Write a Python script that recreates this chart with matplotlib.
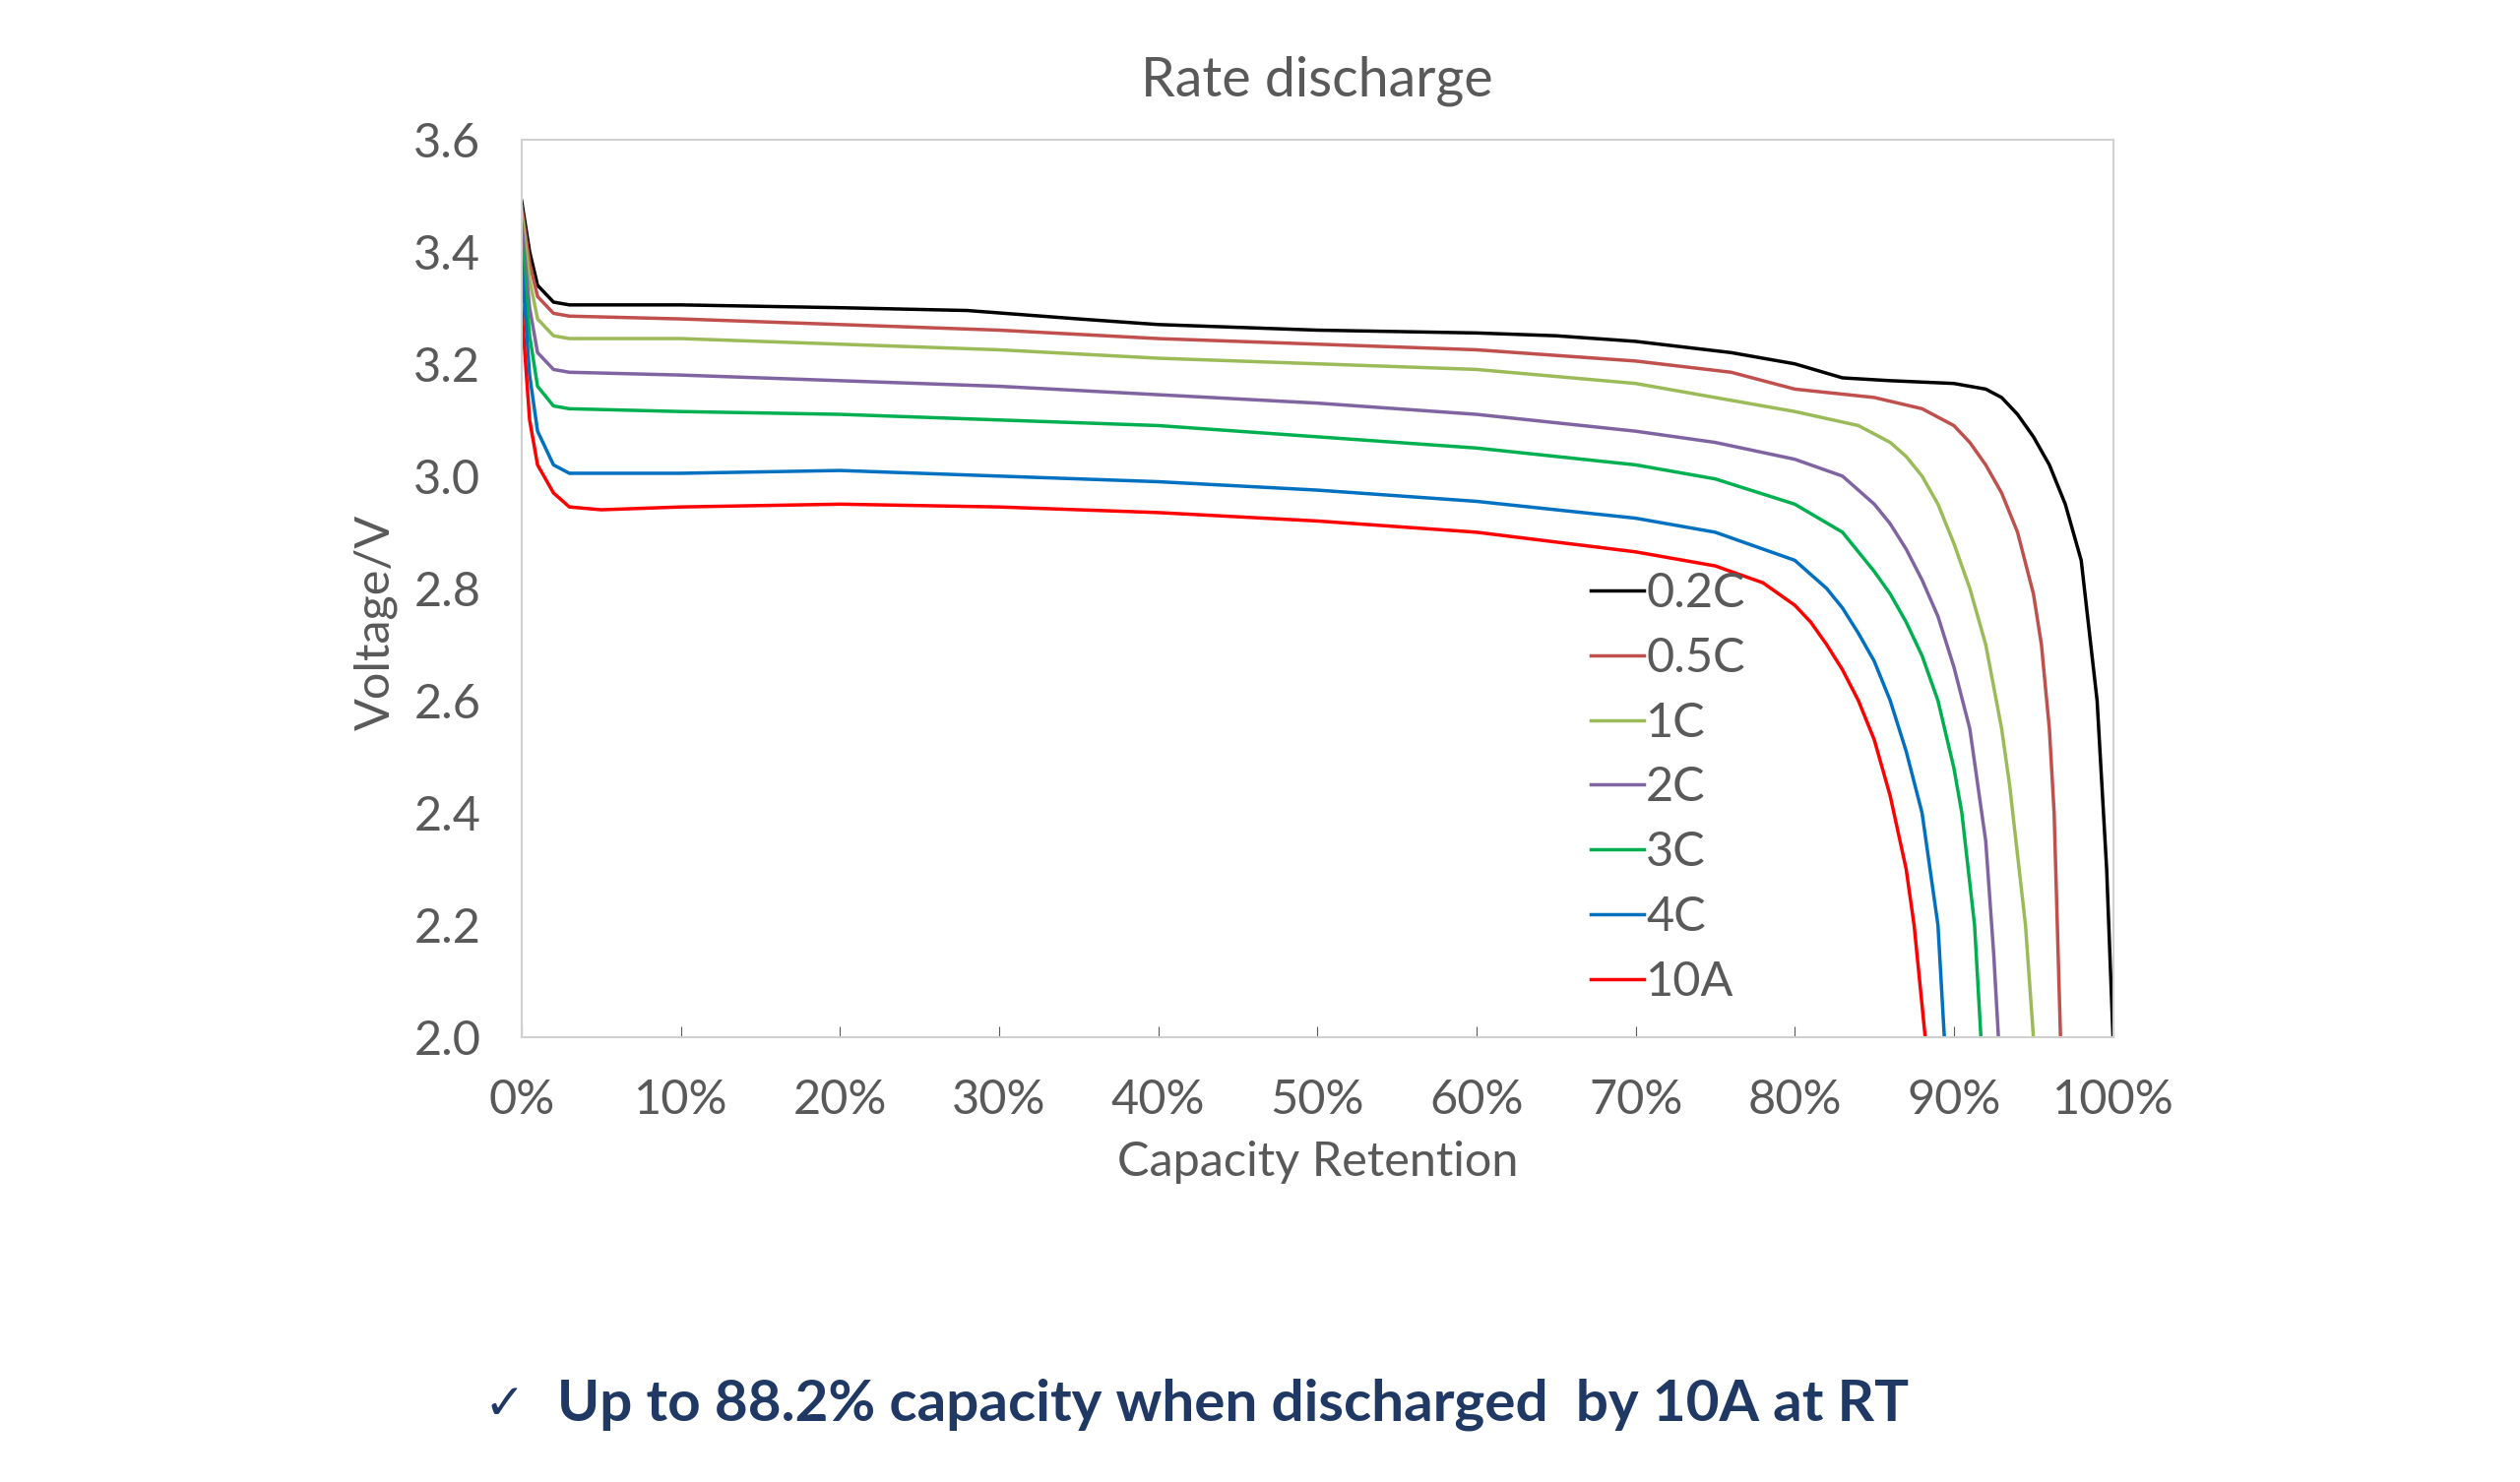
import matplotlib
matplotlib.use("Agg")
import matplotlib.pyplot as plt
from matplotlib.ticker import FuncFormatter

plt.rcParams['font.family'] = ['Lato', 'DejaVu Sans']

labels = ["0.2C", "0.5C", "1C", "2C", "3C", "4C", "10A"]
colors = ["#000000", "#c0504d", "#9bbb59", "#8064a2", "#00b050", "#0070c0", "#ff0000"]

x_02C = [0,0.5,1,2,3,10,20,28,35,40,50,60,65,70,76,80,83,86,90,92,93,94,95,96,97,98,99,99.6,100]
y_02C = [3.49,3.40,3.34,3.31,3.305,3.305,3.30,3.295,3.28,3.27,3.26,3.255,3.25,3.24,3.22,3.20,3.175,3.17,3.165,3.155,3.14,3.11,3.07,3.02,2.95,2.85,2.6,2.3,2.0]
x_05C = [0,0.5,1,2,3,10,20,30,40,50,60,70,76,80,85,88,90,91,92,93,94,95,95.5,96,96.3,96.7]
y_05C = [3.48,3.38,3.32,3.29,3.285,3.28,3.27,3.26,3.245,3.235,3.225,3.205,3.185,3.155,3.14,3.12,3.09,3.06,3.02,2.97,2.9,2.79,2.7,2.55,2.4,2.0]
x_1C = [0,0.5,1,2,3,10,20,30,40,50,60,70,75,80,84,86,87,88,89,90,91,92,93,93.5,94.5,95]
y_1C = [3.47,3.35,3.28,3.25,3.245,3.245,3.235,3.225,3.21,3.2,3.19,3.165,3.14,3.115,3.09,3.06,3.035,3.0,2.95,2.88,2.8,2.7,2.55,2.45,2.2,2.0]
x_2C = [0,0.5,1,2,3,10,20,30,40,50,60,70,75,80,83,85,86,87,88,89,90,91,92,92.5,92.8]
y_2C = [3.45,3.3,3.22,3.19,3.185,3.18,3.17,3.16,3.145,3.13,3.11,3.08,3.06,3.03,3.0,2.95,2.915,2.87,2.815,2.75,2.66,2.55,2.35,2.15,2.0]
x_3C = [0,0.5,1,2,3,10,20,30,40,50,60,70,75,80,83,85,86,87,88,89,90,90.5,91.3,91.7]
y_3C = [3.42,3.25,3.16,3.125,3.12,3.115,3.11,3.1,3.09,3.07,3.05,3.02,2.995,2.95,2.9,2.83,2.79,2.74,2.68,2.6,2.48,2.4,2.2,2.0]
x_4C = [0,0.5,1,2,3,10,20,30,40,50,60,70,75,80,82,83,84,85,86,87,88,89,89.4]
y_4C = [3.38,3.18,3.08,3.02,3.005,3.005,3.01,3.0,2.99,2.975,2.955,2.925,2.9,2.85,2.8,2.765,2.72,2.67,2.6,2.51,2.4,2.2,2.0]
x_10A = [0,0.5,1,2,3,5,10,20,30,40,50,60,70,75,78,80,81,82,83,84,85,86,87,87.5,88.2]
y_10A = [3.3,3.1,3.02,2.97,2.945,2.94,2.945,2.95,2.945,2.935,2.92,2.9,2.865,2.84,2.81,2.77,2.74,2.7,2.655,2.6,2.53,2.43,2.3,2.2,2.0]

xs = [x_02C, x_05C, x_1C, x_2C, x_3C, x_4C, x_10A]
ys = [y_02C, y_05C, y_1C, y_2C, y_3C, y_4C, y_10A]

fig = plt.figure(figsize=(25.6, 15.06), dpi=100)
ax = fig.add_axes([0.207, 0.300, 0.6315, 0.606])
for x, y, c, l in zip(xs, ys, colors, labels):
    ax.plot(x, y, color=c, lw=2.5, label=l)

ax.set_xlim(0, 100)
ax.set_ylim(2.0, 3.6)
ax.set_xticks(range(0, 101, 10))
ax.set_yticks([2.0, 2.2, 2.4, 2.6, 2.8, 3.0, 3.2, 3.4, 3.6])
ax.xaxis.set_major_formatter(FuncFormatter(lambda v, p: f"{int(v)}%"))
ax.yaxis.set_major_formatter(FuncFormatter(lambda v, p: f"{v:.1f}"))
ax.tick_params(axis='both', labelsize=35, colors='#595959', direction='in', length=8)
ax.tick_params(axis='y', length=0, pad=30)
ax.tick_params(axis='x', pad=30)
for s in ax.spines.values():
    s.set_color('#d0d0d0')
    s.set_linewidth(1.5)

ax.set_title("Rate discharge", fontsize=40, color='#595959', pad=32)
ax.set_xlabel("Capacity Retention", fontsize=35, color='#595959', labelpad=14)
fig.text(0.149, 0.58, "Voltage/V", rotation=90, fontsize=35, color='#595959', ha='center', va='center')

leg = ax.legend(loc='upper left', bbox_to_anchor=(0.66, 0.54), frameon=False,
                fontsize=35, handlelength=1.1, handletextpad=0.05, labelspacing=0.45,
                borderaxespad=0)
for t in leg.get_texts():
    t.set_color('#595959')

fig.text(0.192, 0.052, "✓", fontsize=36, color='#1f3864', ha='left', va='center',
         family=['DejaVu Sans'])
fig.text(0.221, 0.052, "Up to 88.2% capacity when discharged  by 10A at RT", fontsize=42,
         color='#1f3864', fontweight='bold', ha='left', va='center')

fig.savefig("out.png", dpi=100)
